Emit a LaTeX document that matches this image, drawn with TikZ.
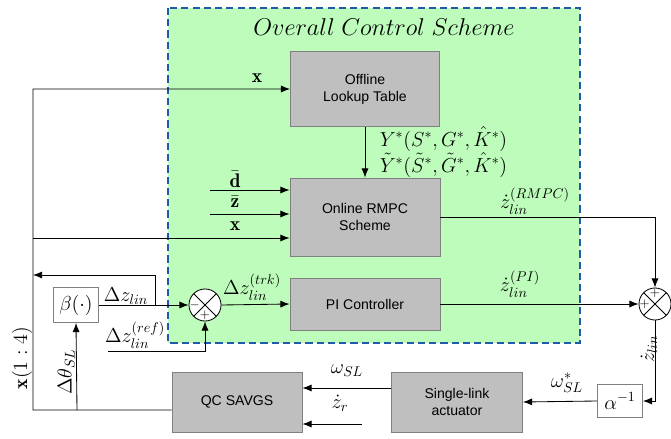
\documentclass[tikz,border=0pt]{standalone}
\usepackage{amsmath}
\usepackage{amssymb}
\usepackage{fontspec}
\usetikzlibrary{positioning,arrows.meta}
\newfontfamily\boxfont{Liberation Sans}
\definecolor{schemegreen}{RGB}{189,252,187}
\definecolor{schemeblue}{RGB}{31,91,168}
\definecolor{boxgray}{RGB}{191,191,191}
\definecolor{edgegray}{RGB}{128,128,128}

\begin{document}
\begin{tikzpicture}[x=0.025cm,y=-0.025cm,line width=0.6pt,
>={Latex[length=6.5pt,width=5pt]},
block/.style={draw=edgegray,fill=boxgray,rectangle,align=center,
    font=\boxfont\fontsize{10}{12}\selectfont},
gain/.style={draw=edgegray,fill=white,rectangle,font=\fontsize{14}{16}\selectfont},
sumnode/.style={draw,circle,fill=white,minimum size=0.8cm,inner sep=0pt,
    path picture={\draw (path picture bounding box.north west) -- (path picture bounding box.south east)
        (path picture bounding box.north east) -- (path picture bounding box.south west);}},
sumsign/.style={font=\fontsize{9}{10}\selectfont,inner sep=0pt},
lbl/.style={font=\fontsize{14}{16}\selectfont,inner sep=1pt}]
\useasboundingbox (0,0) rectangle (671,439);

% overall control scheme area
\draw[schemeblue,fill=schemegreen,line width=1pt,dash pattern=on 5pt off 3pt] (168,8) rectangle (580,343);
\node (title) [font=\fontsize{16}{18}\selectfont] at (384,27) {$Overall\ Control\ Scheme$};

% blocks
\node (offline) [block,minimum width=3.725cm,minimum height=1.875cm] at (365,89) {Offline\\Lookup Table};
\node (rmpc) [block,minimum width=3.75cm,minimum height=1.95cm] at (365,217) {Online RMPC\\Scheme};
\node (pi) [block,minimum width=3.75cm,minimum height=1.3cm] at (365,304) {PI Controller};
\node (qc) [block,minimum width=3.25cm,minimum height=1.5cm] at (237,402) {QC SAVGS};
\node (slink) [block,minimum width=3.275cm,minimum height=1.5cm] at (457,402) {Single-link\\actuator};
\node (beta) [gain,minimum width=1.125cm,minimum height=0.875cm] at (76,305) {$\beta(\cdot)$};
\node (alpha) [gain,minimum width=1.125cm,minimum height=0.825cm] at (620,401) {$\alpha^{-1}$};

% summing junctions
\node (sum1) [sumnode] at (205,305) {};
\node (sum2) [sumnode] at (655,304) {};
\node (sum1m) [sumsign] at ([xshift=-0.26cm]sum1.center) {$-$};
\node (sum1p) [sumsign] at ([yshift=-0.26cm]sum1.center) {$+$};
\node (sum2t) [sumsign] at ([yshift=0.26cm]sum2.center) {$+$};
\node (sum2l) [sumsign] at ([xshift=-0.26cm]sum2.center) {$+$};

% free ends and corners
\coordinate (xtop) at (33,89);
\coordinate (xmid) at (33,238);
\coordinate (xbot) at (33,410);
\coordinate (tap) at (155,305);
\coordinate (tapup) at (155,275);
\coordinate (dbar) at (210,190);
\coordinate (zbar) at (210,214);
\coordinate (zref) at (108,351);
\coordinate (zr) at (362,424);
\coordinate (thetatap) at (77,410);

% connectors
\draw[->] ([yshift=-0.2cm]qc.west) -- (xbot) -- (xtop) -- (offline.west);
\draw[->] (xmid) -- (rmpc.west |- xmid);
\draw[->] (dbar) -- (rmpc.west |- dbar);
\draw[->] (zbar) -- (rmpc.west |- zbar);
\draw[->] (offline.south) -- (rmpc.north);
\draw[->] (rmpc.east) -| (sum2.north);
\draw[->] (pi.east) -- (sum2.west);
\draw[->] (sum1.east) -- (pi.west);
\draw[->] (beta.east) -- (sum1.west);
\draw[->] (tap) -- (tapup) -- (xmid |- tapup);
\draw[->] (zref) -| (sum1.south);
\draw[->] (thetatap) -- (beta.south);
\draw[->] (sum2.south) |- (alpha.east);
\draw[->] (alpha.west) -- (slink.east);
\draw[->] ([yshift=0.35cm]slink.west) -- ([yshift=0.35cm]qc.east);
\draw[->] (zr) -- (qc.east |- zr);

% signal labels
\node (xlbl1) [lbl] at (257,78) {$\mathbf{x}$};
\node (dlbl) [lbl] at (235,179) {$\bar{\mathbf{d}}$};
\node (zlbl) [lbl] at (235,202) {$\bar{\mathbf{z}}$};
\node (xlbl2) [lbl] at (235,226) {$\mathbf{x}$};
\node (ylbl) [lbl,anchor=west] at (378,139) {$Y^*(S^*,G^*,\hat{K}^*)$};
\node (ytlbl) [lbl,anchor=west] at (378,165) {$\tilde{Y}^*(\tilde{S}^*,\tilde{G}^*,\hat{K}^*)$};
\node (rmpclbl) [lbl] at (535,201) {$\dot{z}_{lin}^{(RMPC)}$};
\node (pilbl) [lbl] at (520,284) {$\dot{z}_{lin}^{(PI)}$};
\node (trklbl) [lbl] at (252,287) {$\Delta z_{lin}^{(trk)}$};
\node (dzlbl) [lbl] at (126,296) {$\Delta z_{lin}$};
\node (reflbl) [lbl] at (135,335) {$\Delta z_{lin}^{(ref)}$};
\node (zdotlbl) [lbl,rotate=90] at (649,349) {$\dot{z}_{lin}$};
\node (wslstar) [lbl] at (567,383) {$\omega_{SL}^{*}$};
\node (wsl) [lbl] at (347,371) {$\omega_{SL}$};
\node (zrlbl) [lbl] at (340,403) {$\dot{z}_r$};
\node (thlbl) [lbl,rotate=90] at (66,372) {$\Delta\theta_{SL}$};
\node (x14lbl) [lbl,rotate=90] at (22,358) {$\mathbf{x}(1:4)$};
\end{tikzpicture}
\end{document}
